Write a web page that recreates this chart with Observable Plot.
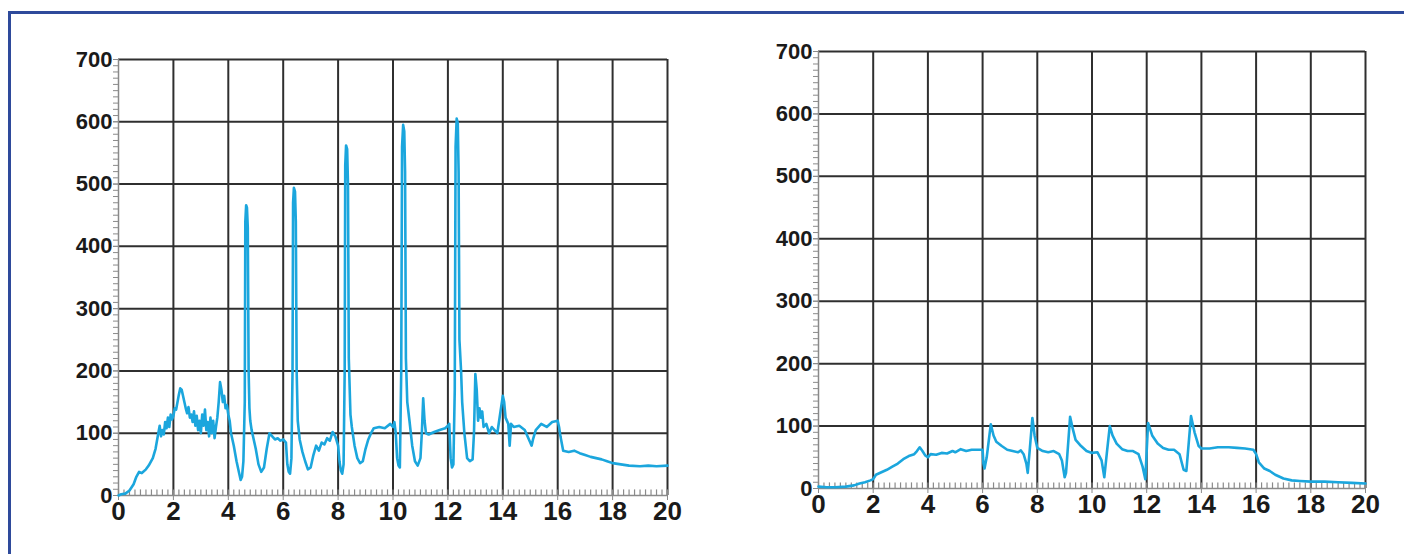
<!DOCTYPE html>
<html>
<head>
<meta charset="utf-8">
<script src="https://cdn.jsdelivr.net/npm/d3@7"></script>
<script src="https://cdn.jsdelivr.net/npm/@observablehq/plot@0.6"></script>
<style>
  html, body { margin: 0; padding: 0; background: #ffffff; }
  body { width: 1404px; height: 554px; position: relative; overflow: hidden; }
  #frame { position: absolute; left: 8px; top: 11px; width: 1500px; height: 560px;
           border-top: 3px solid #2e4a9b; border-left: 3px solid #2e4a9b; }
  .chart { position: absolute; top: 0; }
  #left { left: 0; }
  #right { left: 700px; }
</style>
</head>
<body>
<div id="frame"></div>
<div id="left" class="chart"></div>
<div id="right" class="chart"></div>
<script>
// ---- tick values ----
const xMajorTicks = [0, 2, 4, 6, 8, 10, 12, 14, 16, 18, 20];
const yMajorTicks = [0, 100, 200, 300, 400, 500, 600, 700];
const xMinorTicks = d3.range(0, 20.001, 0.2);
const yMinorTicks = d3.range(0, 701, 10);

// ---- left chart series ----
const leftTime = [
  0.0, 0.1, 0.25, 0.4, 0.55, 0.65, 0.75, 0.85, 1.0, 1.1, 1.25, 1.35, 1.45, 1.5, 1.55, 1.6, 1.65, 1.7, 1.75, 1.8,
  1.85, 1.9, 1.95, 2.0, 2.05, 2.1, 2.15, 2.2, 2.25, 2.3, 2.35, 2.4, 2.45, 2.5, 2.55, 2.6, 2.65, 2.7, 2.75, 2.8,
  2.85, 2.9, 2.95, 3.0, 3.05, 3.1, 3.15, 3.2, 3.25, 3.3, 3.35, 3.4, 3.45, 3.5, 3.55, 3.6, 3.65, 3.7, 3.75, 3.8,
  3.85, 3.9, 3.95, 4.0, 4.05, 4.1, 4.2, 4.3, 4.4, 4.45, 4.5, 4.55, 4.6, 4.62, 4.65, 4.68, 4.71, 4.74, 4.77, 4.8,
  4.85, 4.9, 5.0, 5.1, 5.2, 5.3, 5.4, 5.5, 5.6, 5.7, 5.8, 5.9, 6.0, 6.1, 6.15, 6.2, 6.25, 6.3, 6.34, 6.36,
  6.39, 6.43, 6.46, 6.49, 6.53, 6.6, 6.7, 6.8, 6.9, 7.0, 7.1, 7.2, 7.3, 7.4, 7.5, 7.6, 7.7, 7.8, 7.9, 8.0,
  8.05, 8.1, 8.15, 8.2, 8.24, 8.26, 8.29, 8.33, 8.36, 8.39, 8.45, 8.5, 8.6, 8.7, 8.8, 8.9, 9.0, 9.1, 9.2, 9.3,
  9.5, 9.7, 9.9, 10.0, 10.05, 10.1, 10.15, 10.2, 10.25, 10.3, 10.33, 10.37, 10.41, 10.44, 10.47, 10.52, 10.6, 10.7, 10.8, 10.9,
  11.0, 11.05, 11.1, 11.15, 11.2, 11.3, 11.5, 11.7, 11.9, 12.0, 12.05, 12.1, 12.15, 12.2, 12.25, 12.28, 12.32, 12.36, 12.39, 12.42,
  12.48, 12.52, 12.6, 12.7, 12.8, 12.9, 12.95, 13.0, 13.05, 13.1, 13.15, 13.2, 13.25, 13.3, 13.4, 13.5, 13.6, 13.7, 13.8, 13.9,
  14.0, 14.05, 14.1, 14.2, 14.25, 14.3, 14.4, 14.6, 14.8, 14.9, 15.0, 15.05, 15.1, 15.2, 15.4, 15.6, 15.8, 16.0, 16.05, 16.1,
  16.2, 16.4, 16.6, 16.8, 17.0, 17.2, 17.4, 17.6, 17.8, 18.0, 18.3, 18.6, 19.0, 19.3, 19.6, 20.0
];
const leftSignal = [
  0, 2, 3, 8, 18, 30, 38, 36, 42, 48, 60, 75, 100, 112, 95, 105, 98, 118, 108, 125,
  110, 130, 122, 128, 140, 138, 150, 162, 172, 170, 160, 150, 140, 132, 142, 125, 130, 118, 135, 112,
  128, 105, 120, 100, 130, 112, 138, 105, 118, 95, 125, 100, 120, 92, 110, 125, 150, 182, 170, 150,
  160, 140, 145, 130, 120, 100, 80, 55, 35, 25, 30, 55, 150, 440, 466, 462, 430, 200, 140, 120,
  105, 95, 75, 50, 38, 45, 75, 100, 95, 90, 92, 88, 90, 85, 50, 38, 35, 60, 200, 470,
  494, 488, 440, 200, 120, 90, 70, 55, 42, 45, 65, 80, 72, 85, 82, 92, 88, 102, 95, 80,
  55, 40, 35, 50, 200, 530, 562, 556, 500, 220, 130, 110, 80, 60, 52, 55, 75, 90, 100, 108,
  110, 108, 115, 110, 118, 100, 60, 48, 45, 200, 560, 595, 585, 520, 220, 150, 120, 80, 55, 48,
  60, 100, 156, 120, 100, 98, 102, 105, 108, 112, 115, 60, 45, 50, 170, 560, 605, 598, 520, 250,
  200, 150, 100, 60, 55, 58, 100, 195, 170, 120, 140, 125, 135, 110, 115, 100, 110, 105, 100, 130,
  160, 150, 125, 115, 80, 115, 110, 112, 105, 95, 85, 80, 90, 105, 115, 110, 118, 120, 110, 95,
  72, 70, 72, 68, 65, 62, 60, 58, 55, 52, 50, 48, 47, 48, 47, 48
];

// ---- right chart series ----
const rightTime = [
  0.0, 0.3, 0.6, 1.0, 1.3, 1.5, 1.7, 1.9, 2.0, 2.1, 2.3, 2.5, 2.7, 2.9, 3.1, 3.3, 3.5, 3.6, 3.7, 3.8,
  3.9, 4.0, 4.1, 4.3, 4.5, 4.7, 4.9, 5.0, 5.2, 5.4, 5.6, 5.8, 6.0, 6.03, 6.07, 6.15, 6.3, 6.4, 6.5, 6.7,
  6.9, 7.1, 7.3, 7.4, 7.5, 7.6, 7.65, 7.72, 7.82, 7.9, 8.0, 8.2, 8.4, 8.6, 8.8, 8.9, 9.0, 9.05, 9.2, 9.3,
  9.4, 9.6, 9.8, 10.0, 10.2, 10.35, 10.45, 10.55, 10.65, 10.75, 10.9, 11.1, 11.3, 11.5, 11.7, 11.85, 11.95, 12.05, 12.2, 12.4,
  12.6, 12.8, 13.0, 13.2, 13.35, 13.45, 13.55, 13.62, 13.75, 13.9, 14.0, 14.3, 14.6, 15.0, 15.3, 15.6, 15.9, 16.0, 16.1, 16.3,
  16.5, 16.7, 17.0, 17.3, 17.6, 18.0, 18.5, 19.0, 19.5, 20.0
];
const rightSignal = [
  3, 2, 2, 3, 5, 8, 10, 13, 15, 22, 26, 30, 35, 40, 47, 52, 55, 60, 66, 60,
  53, 50, 55, 54, 57, 56, 60, 58, 63, 60, 62, 62, 62, 40, 32, 50, 103, 85, 75, 68,
  62, 60, 58, 61, 55, 40, 25, 60, 113, 85, 65, 60, 58, 60, 55, 45, 18, 25, 115, 95,
  78, 68, 60, 57, 58, 45, 18, 60, 100, 85, 72, 63, 60, 60, 55, 35, 15, 105, 85, 72,
  65, 62, 62, 55, 30, 28, 80, 116, 90, 68, 64, 64, 66, 66, 65, 64, 62, 55, 42, 32,
  28, 22, 16, 13, 12, 11, 11, 10, 9, 8
];

const leftData = leftTime.map((t, i) => ({t, v: leftSignal[i]}));
const rightData = rightTime.map((t, i) => ({t, v: rightSignal[i]}));

const FONT = "'Liberation Sans', Arial, sans-serif";
const GRID = "#2f2f2f";
const AXIS = "#8a8a8a";
const LINE = "#1ba6dd";

function chart(data, m) {
  return Plot.plot({
    width: m.width, height: 554,
    marginLeft: m.left, marginRight: m.right, marginTop: m.top, marginBottom: m.bottom,
    x: {domain: [0, 20], label: null},
    y: {domain: [0, 700], label: null},
    style: {background: "transparent", fontFamily: FONT, overflow: "visible", color: "#1a1a1a"},
    marks: [
      Plot.ruleY(yMajorTicks.slice(1), {x1: 0, x2: 20, stroke: GRID, strokeWidth: 2}),
      Plot.ruleX(xMajorTicks.slice(1), {y1: 0, y2: 700, stroke: GRID, strokeWidth: 2}),
      Plot.ruleX(xMinorTicks, {y1: 0, y2: 9, stroke: AXIS, strokeWidth: 1.2}),
      Plot.ruleX([0], {y1: 0, y2: 700, stroke: AXIS, strokeWidth: 1.5}),
      Plot.ruleY([0], {x1: 0, x2: 20, stroke: AXIS, strokeWidth: 1.5}),
      Plot.axisY({ticks: yMinorTicks, tickSize: 5, tickFormat: () => "", stroke: AXIS, label: null}),
      Plot.axisY({ticks: yMajorTicks, tickSize: 5, tickPadding: 1, fontSize: 22, fontWeight: "bold",
                  stroke: AXIS, fill: "#1a1a1a", label: null}),
      Plot.axisX({ticks: xMajorTicks, tickSize: 5, tickPadding: 1, fontSize: 26, fontWeight: "bold",
                  stroke: AXIS, fill: "#1a1a1a", label: null}),
      Plot.line(data, {x: "t", y: "v", stroke: LINE, strokeWidth: 2.6, strokeLinejoin: "round"})
    ]
  });
}

document.getElementById("left").append(
  chart(leftData, {width: 700, left: 118, right: 33, top: 59, bottom: 59}));
document.getElementById("right").append(
  chart(rightData, {width: 704, left: 118, right: 39, top: 51, bottom: 66}));
</script>
</body>
</html>
